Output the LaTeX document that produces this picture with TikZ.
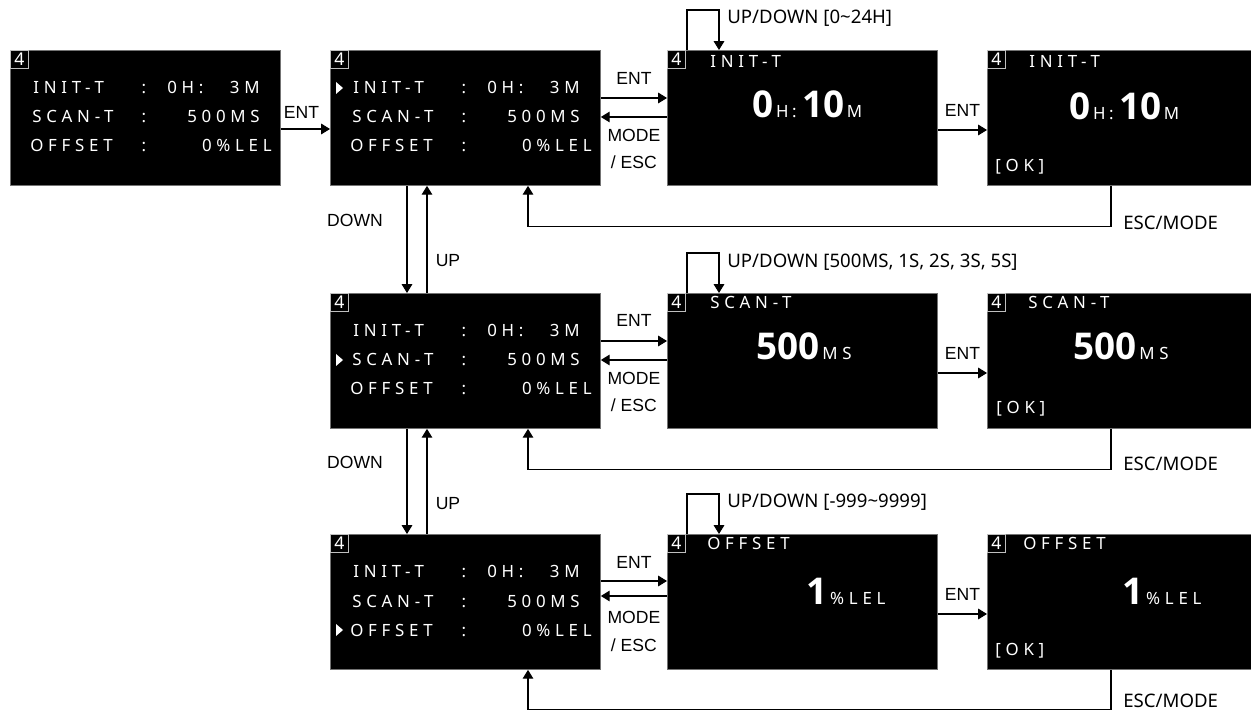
\documentclass[tikz,border=0pt]{standalone}
\usepackage{fontspec}
\setmainfont{Liberation Sans}
\newfontfamily\scrfont[LetterSpace=28]{Noto Sans}
\newfontfamily\notefont{Noto Sans}
\newfontfamily\numfont{Open Sans}
\usetikzlibrary{arrows.meta,positioning,calc}
\newcommand{\bigd}{\numfont\bfseries\fontsize{21}{21}\selectfont}
\newcommand{\smu}{\scrfont\fontsize{9.6}{10}\selectfont}
\newcommand{\menulines}[1]{%
\node[tag] (#1-t) at (#1.north west) {4};
\node[scr,anchor=base west] (#1-n1) at ($(#1.north west)+(23,44)$) {INIT-T};
\node[scr,anchor=base] (#1-c1) at ($(#1.north west)+(134,44)$) {:};
\node[scr,anchor=base west] (#1-h1) at ($(#1.north west)+(157,44)$) {0H:};
\node[scr,anchor=base east] (#1-v1) at ($(#1.north west)+(250,44)$) {3M};
\node[scr,anchor=base west] (#1-n2) at ($(#1.north west)+(22,73)$) {SCAN-T};
\node[scr,anchor=base] (#1-c2) at ($(#1.north west)+(134,73)$) {:};
\node[scr,anchor=base east] (#1-v2) at ($(#1.north west)+(250,73)$) {500MS};
\node[scr,anchor=base west] (#1-n3) at ($(#1.north west)+(20,102)$) {OFFSET};
\node[scr,anchor=base] (#1-c3) at ($(#1.north west)+(134,102)$) {:};
\node[scr,anchor=base east] (#1-v3) at ($(#1.north west)+(262,102)$) {0\%LEL};
}

\begin{document}
\begin{tikzpicture}[x=0.02cm,y=-0.02cm]
\tikzstyle{every node}+=[inner sep=0pt]
\tikzstyle{screen}=[fill=black,draw=black!55,line width=0.5pt,minimum width=5.4cm,minimum height=2.7cm,anchor=north west]
\tikzstyle{tag}=[draw=white!75!black,line width=0.5pt,text=white,minimum size=0.36cm,anchor=north west,font=\notefont\fontsize{10}{10}\selectfont]
\tikzstyle{scr}=[text=white,font=\scrfont\fontsize{9.6}{10}\selectfont]
\tikzstyle{lbl}=[font=\fontsize{10}{12}\selectfont]
\tikzstyle{note}=[font=\notefont\fontsize{10.6}{12}\selectfont]
\tikzstyle{arr}=[-{Triangle[length=5pt,width=6pt]},line width=0.6pt]
\useasboundingbox (0,0) rectangle (1251,712);

\node[screen] (m0) at (10,50) {};
\menulines{m0}
\node[screen] (a1) at (330,50) {};
\menulines{a1}
\node[screen] (a2) at (330,293) {};
\menulines{a2}
\node[screen] (a3) at (330,534) {};
\menulines{a3}
\fill[white] ($(a1.north west)+(6,32)$) -- ++(7,6) -- ++(-7,6) -- cycle;
\fill[white] ($(a2.north west)+(6,61)$) -- ++(7,6) -- ++(-7,6) -- cycle;
\fill[white] ($(a3.north west)+(6,90)$) -- ++(7,6) -- ++(-7,6) -- cycle;

\node[screen] (b1) at (667,50) {};
\node[tag] (b1-t) at (b1.north west) {4};
\node[scr,anchor=base west] (b1-n) at ($(b1.north west)+(43,18)$) {INIT-T};
\node[anchor=base west,text=white] (b1-v) at ($(b1.north west)+(85,68)$) {{\bigd 0}{\smu\,H\hspace{2pt}:\hspace{3pt}}{\bigd 10}{\smu\,M}};
\node[screen,minimum width=5.3cm] (c1) at (987,50) {};
\node[tag] (c1-t) at (c1.north west) {4};
\node[scr,anchor=base west] (c1-n) at ($(c1.north west)+(42,18)$) {INIT-T};
\node[anchor=base west,text=white] (c1-v) at ($(c1.north west)+(82,70)$) {{\bigd 0}{\smu\,H\hspace{2pt}:\hspace{3pt}}{\bigd 10}{\smu\,M}};
\node[scr,anchor=base west] (c1-ok) at ($(c1.north west)+(8,122)$) {[OK]};

\node[screen] (b2) at (667,293) {};
\node[tag] (b2-t) at (b2.north west) {4};
\node[scr,anchor=base west] (b2-n) at ($(b2.north west)+(43,16)$) {SCAN-T};
\node[anchor=base west,text=white] (b2-v) at ($(b2.north west)+(89,67)$) {{\bigd 500}{\smu\,MS}};
\node[screen,minimum width=5.3cm] (c2) at (987,293) {};
\node[tag] (c2-t) at (c2.north west) {4};
\node[scr,anchor=base west] (c2-n) at ($(c2.north west)+(41,16)$) {SCAN-T};
\node[anchor=base west,text=white] (c2-v) at ($(c2.north west)+(86,67)$) {{\bigd 500}{\smu\,MS}};
\node[scr,anchor=base west] (c2-ok) at ($(c2.north west)+(9,121)$) {[OK]};

\node[screen] (b3) at (667,534) {};
\node[tag] (b3-t) at (b3.north west) {4};
\node[scr,anchor=base west] (b3-n) at ($(b3.north west)+(40,16)$) {OFFSET};
\node[anchor=base west,text=white] (b3-v) at ($(b3.north west)+(139,70)$) {{\bigd 1}{\smu\,\%LEL}};
\node[screen,minimum width=5.3cm] (c3) at (987,534) {};
\node[tag] (c3-t) at (c3.north west) {4};
\node[scr,anchor=base west] (c3-n) at ($(c3.north west)+(36,16)$) {OFFSET};
\node[anchor=base west,text=white] (c3-v) at ($(c3.north west)+(135,70)$) {{\bigd 1}{\smu\,\%LEL}};
\node[scr,anchor=base west] (c3-ok) at ($(c3.north west)+(8,121)$) {[OK]};

\draw[arr] ($(m0.north east)+(0,79)$) -- ($(a1.north west)+(0,79)$);
\node[lbl] (e0) at ($(m0.north east)!0.5!(a1.north west)+(-4,62)$) {ENT};

\draw[arr] ($(a1.north east)+(0,48)$) -- ($(b1.north west)+(0,48)$);
\draw[arr] ($(b1.north west)+(0,67)$) -- ($(a1.north east)+(0,67)$);
\node[lbl] (e1) at ($(a1.north east)!0.5!(b1.north west)+(0,28)$) {ENT};
\node[lbl] (md1) at ($(a1.north east)!0.5!(b1.north west)+(0,85)$) {MODE};
\node[lbl] (es1) at ($(a1.north east)!0.5!(b1.north west)+(0,112)$) {/ ESC};
\draw[arr] ($(b1.north east)+(0,80)$) -- ($(c1.north west)+(0,80)$);
\node[lbl] (f1) at ($(b1.north east)!0.5!(c1.north west)+(0,60)$) {ENT};
\draw[arr] ($(b1.north west)+(20,0)$) -- ++(0,-40) -| ($(b1.north west)+(52,0)$);
\node[note,anchor=west] (u1) at ($(b1.north west)+(60,-32)$) {UP/DOWN [0\textasciitilde24H]};
\draw[arr] ($(c1.south west)+(124,0)$) -- ++(0,41) -| ($(a1.south west)+(198,0)$);
\node[note,anchor=west] (r1) at ($(c1.south west)+(136,37)$) {ESC/MODE};

\draw[arr] ($(a2.north east)+(0,48)$) -- ($(b2.north west)+(0,48)$);
\draw[arr] ($(b2.north west)+(0,67)$) -- ($(a2.north east)+(0,67)$);
\node[lbl] (e2) at ($(a2.north east)!0.5!(b2.north west)+(0,27)$) {ENT};
\node[lbl] (md2) at ($(a2.north east)!0.5!(b2.north west)+(0,85)$) {MODE};
\node[lbl] (es2) at ($(a2.north east)!0.5!(b2.north west)+(0,112)$) {/ ESC};
\draw[arr] ($(b2.north east)+(0,80)$) -- ($(c2.north west)+(0,80)$);
\node[lbl] (f2) at ($(b2.north east)!0.5!(c2.north west)+(0,60)$) {ENT};
\draw[arr] ($(b2.north west)+(20,0)$) -- ++(0,-40) -| ($(b2.north west)+(52,0)$);
\node[note,anchor=west] (u2) at ($(b2.north west)+(60,-31)$) {UP/DOWN [500MS, 1S, 2S, 3S, 5S]};
\draw[arr] ($(c2.south west)+(124,0)$) -- ++(0,41) -| ($(a2.south west)+(198,0)$);
\node[note,anchor=west] (r2) at ($(c2.south west)+(136,35)$) {ESC/MODE};

\draw[arr] ($(a3.north east)+(0,47)$) -- ($(b3.north west)+(0,47)$);
\draw[arr] ($(b3.north west)+(0,62)$) -- ($(a3.north east)+(0,62)$);
\node[lbl] (e3) at ($(a3.north east)!0.5!(b3.north west)+(0,28)$) {ENT};
\node[lbl] (md3) at ($(a3.north east)!0.5!(b3.north west)+(0,83)$) {MODE};
\node[lbl] (es3) at ($(a3.north east)!0.5!(b3.north west)+(0,111)$) {/ ESC};
\draw[arr] ($(b3.north east)+(0,80)$) -- ($(c3.north west)+(0,80)$);
\node[lbl] (f3) at ($(b3.north east)!0.5!(c3.north west)+(0,60)$) {ENT};
\draw[arr] ($(b3.north west)+(20,0)$) -- ++(0,-40) -| ($(b3.north west)+(52,0)$);
\node[note,anchor=west] (u3) at ($(b3.north west)+(60,-32)$) {UP/DOWN [-999\textasciitilde9999]};
\draw[arr] ($(c3.south west)+(124,0)$) -- ++(0,40) -| ($(a3.south west)+(198,0)$);
\node[note,anchor=west] (r3) at ($(c3.south west)+(136,31)$) {ESC/MODE};

\draw[arr] ($(a1.south west)+(77,0)$) -- ($(a2.north west)+(77,0)$);
\draw[arr] ($(a2.north west)+(97,0)$) -- ($(a1.south west)+(97,0)$);
\node[lbl] (d1) at ($(a1.south west)+(25,35)$) {DOWN};
\node[lbl] (up1) at ($(a1.south west)+(118,75)$) {UP};
\draw[arr] ($(a2.south west)+(77,0)$) -- ($(a3.north west)+(77,0)$);
\draw[arr] ($(a3.north west)+(97,0)$) -- ($(a2.south west)+(97,0)$);
\node[lbl] (d2) at ($(a2.south west)+(25,34)$) {DOWN};
\node[lbl] (up2) at ($(a2.south west)+(118,75)$) {UP};
\end{tikzpicture}
\end{document}
